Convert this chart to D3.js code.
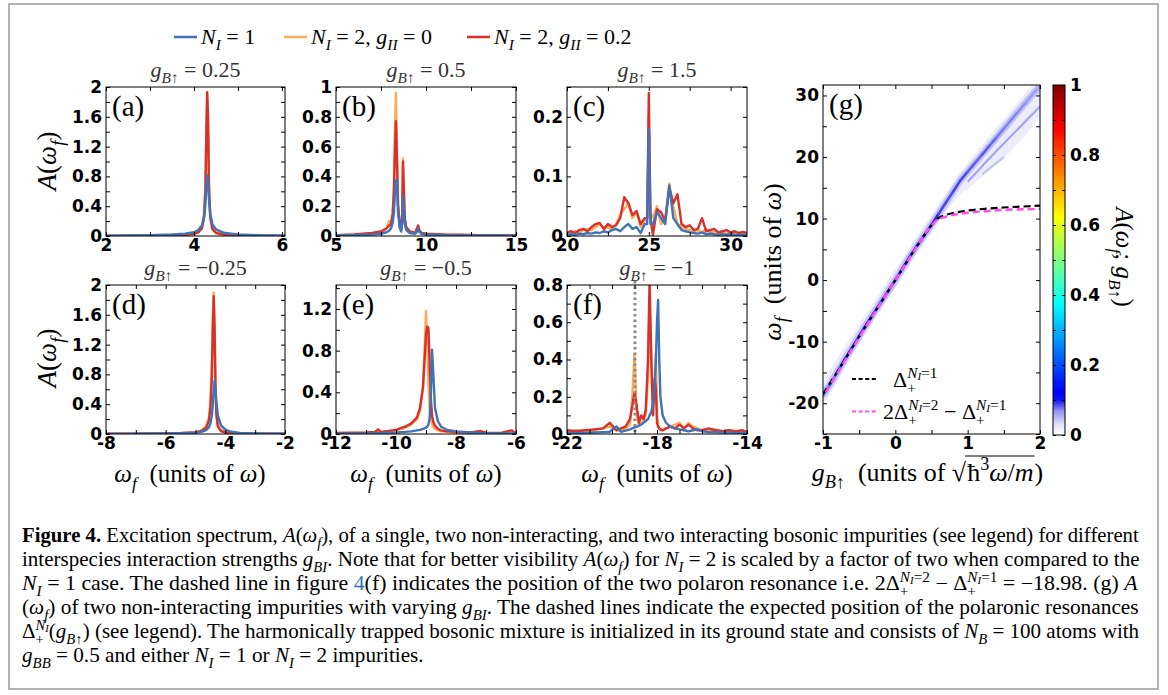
<!DOCTYPE html>
<html>
<head>
<meta charset="utf-8">
<script src="https://cdn.jsdelivr.net/npm/d3@7"></script>
<style>
  body { margin: 0; background: #fff; }
  svg { display: block; }
  text { white-space: pre; }
</style>
</head>
<body>
<svg id="fig" width="1168" height="695"></svg>
<script>
// ---- data ----

// (a) g = 0.25
const aX      = [2, 2.5, 3, 3.5, 3.8, 4.0, 4.1, 4.18, 4.23, 4.26, 4.28, 4.3, 4.32, 4.34, 4.37, 4.42, 4.5, 4.7, 5, 5.5, 6.07];
const aBlue   = [.005, .008, .012, .02, .03, .05, .08, .14, .25, .42, .65, .82, .75, .5, .3, .16, .09, .04, .02, .01, .005];
const aOrange = [.002, .003, .006, .012, .018, .035, .06, .12, .3, .7, 1.35, 1.9, 1.55, .7, .28, .1, .05, .02, .01, .005, .003];
const aRed    = [.002, .003, .005, .01, .015, .03, .05, .1, .25, .6, 1.3, 1.93, 1.6, .7, .25, .09, .04, .015, .008, .004, .002];

// (b) g = 0.5
const bX      = [5, 6, 6.5, 7, 7.5, 7.8, 7.95, 8.05, 8.15, 8.22, 8.28, 8.33, 8.38, 8.45, 8.55, 8.62, 8.68, 8.72, 8.76, 8.82, 8.9, 9.1, 9.4, 9.5, 9.56, 9.62, 9.75, 10, 11, 12, 13, 14, 15];
const bBlue   = [.003, .005, .007, .01, .015, .025, .035, .05, .09, .16, .3, .37, .38, .15, .05, .03, .1, .27, .2, .08, .04, .02, .015, .03, .05, .03, .015, .01, .006, .004, .003, .003, .002];
const bOrange = [.004, .008, .012, .015, .03, .05, .1, .07, .15, .35, .75, .96, .6, .2, .06, .04, .15, .52, .36, .12, .05, .03, .02, .05, .07, .04, .02, .012, .008, .006, .005, .004, .003];
const bRed    = [.005, .01, .015, .02, .03, .05, .07, .08, .15, .3, .6, .77, .55, .2, .06, .04, .15, .5, .35, .12, .06, .03, .02, .05, .07, .04, .02, .015, .01, .008, .006, .005, .004];

// (c) g = 1.5
const cX      = [20, 20.25, 20.5, 20.75, 21, 21.25, 21.5, 21.75, 22, 22.25, 22.5, 22.75, 23, 23.25, 23.5, 23.75, 24, 24.25, 24.5, 24.75, 24.9, 25, 25.1, 25.25, 25.5, 25.75, 26, 26.25, 26.5, 26.75, 27, 27.25, 27.5, 27.75, 28, 28.25, 28.5, 28.75, 29, 29.25, 29.5, 29.75, 30, 30.25, 30.5, 30.75, 31];
const cBlue   = [.002, .003, .002, .004, .003, .005, .004, .006, .005, .008, .006, .01, .012, .008, .015, .02, .012, .015, .005, .02, .02, .18, .02, .02, .04, .03, .02, .085, .03, .02, .01, .008, .006, .005, .004, .006, .003, .004, .003, .002, .003, .002, .003, .002, .002, .002, .002];
const cOrange = [.004, .006, .008, .005, .01, .012, .01, .015, .02, .012, .015, .01, .02, .035, .045, .055, .03, .04, .015, .025, .03, .2, .04, .03, .05, .02, .03, .088, .05, .02, .015, .012, .01, .008, .01, .006, .012, .006, .008, .005, .006, .004, .006, .004, .005, .003, .004];
const cRed    = [.006, .008, .005, .01, .012, .008, .015, .02, .022, .012, .02, .015, .018, .03, .065, .055, .035, .042, .02, .03, .03, .24, .03, .002, .045, .04, .025, .08, .055, .07, .02, .015, .018, .01, .012, .03, .008, .01, .012, .006, .008, .01, .006, .008, .005, .007, .005];

// (d) g = -0.25
const dX      = [-8, -7, -6, -5.5, -5, -4.8, -4.65, -4.55, -4.5, -4.45, -4.42, -4.39, -4.36, -4.33, -4.3, -4.25, -4.15, -4, -3.8, -3.5, -3, -2.5, -2];
const dBlue   = [.002, .003, .006, .01, .018, .03, .05, .09, .14, .25, .4, .6, .72, .6, .42, .25, .12, .06, .03, .015, .008, .005, .003];
const dOrange = [.003, .004, .008, .013, .025, .05, .1, .22, .45, 1.0, 1.6, 1.9, 1.5, .7, .3, .12, .06, .03, .015, .01, .006, .004, .003];
const dRed    = [.003, .004, .008, .012, .02, .04, .08, .18, .35, .8, 1.4, 1.85, 1.4, .6, .25, .1, .04, .02, .012, .008, .005, .004, .003];

// (e) g = -0.5
const eX      = [-12, -11.5, -11, -10.7, -10.6, -10.5, -10, -9.7, -9.5, -9.3, -9.2, -9.1, -9.05, -9.0, -8.96, -8.92, -8.88, -8.84, -8.8, -8.76, -8.7, -8.6, -8.5, -8.3, -8, -7.5, -7.2, -7, -6.5, -6.15, -6.05, -6];
const eBlue   = [.003, .004, .005, .006, .008, .01, .015, .02, .025, .035, .04, .05, .055, .06, .07, .09, .15, .35, .81, .6, .25, .12, .07, .04, .025, .015, .01, .008, .006, .005, .005, .004];
const eOrange = [.005, .008, .01, .015, .03, .015, .035, .06, .09, .14, .22, .45, .8, 1.18, .9, .5, .25, .15, .1, .07, .05, .035, .025, .02, .015, .012, .015, .01, .008, .01, .008, .006];
const eRed    = [.01, .012, .015, .02, .045, .02, .04, .07, .1, .16, .25, .45, .7, .95, 1.03, 1.02, .7, .35, .18, .12, .08, .05, .035, .025, .02, .015, .03, .012, .01, .035, .015, .01];

// (f) g = -1
const fX      = [-22, -21.6, -21.2, -20.8, -20.4, -20.1, -19.8, -19.6, -19.4, -19.2, -19.1, -19.0, -18.9, -18.8, -18.7, -18.6, -18.5, -18.4, -18.33, -18.25, -18.18, -18.1, -18.05, -18.0, -17.95, -17.9, -17.85, -17.75, -17.6, -17.4, -17.2, -17.0, -16.8, -16.6, -16.4, -16.2, -16.0, -15.7, -15.4, -15.1, -14.8, -14.5, -14.2, -14];
const fBlue   = [.005, .005, .006, .008, .01, .012, .04, .012, .018, .025, .03, .035, .04, .045, .05, .06, .07, .08, .1, .12, .16, .25, .4, .6, .72, .4, .2, .1, .06, .04, .03, .025, .02, .015, .02, .025, .015, .01, .01, .008, .008, .006, .006, .005];
const fOrange = [.01, .02, .015, .02, .03, .04, .02, .02, .03, .05, .2, .43, .1, .05, .06, .07, .1, .3, .7, .35, .12, .3, .43, .1, .05, .03, .02, .02, .03, .04, .05, .06, .03, .06, .04, .03, .02, .02, .025, .015, .02, .01, .015, .01];
const fRed    = [.02, .015, .02, .025, .03, .06, .02, .03, .04, .08, .15, .22, .15, .06, .1, .08, .13, .4, .82, .4, .1, .3, .25, .06, .04, .03, .025, .02, .03, .04, .03, .05, .03, .05, .03, .02, .02, .03, .02, .015, .02, .015, .02, .01];
const fResonance = -18.98;

// (g) spectrum ridges, g_B↑ vs omega_f
const gGrid    = [-1, -0.9, -0.8, -0.7, -0.6, -0.5, -0.4, -0.3, -0.2, -0.1, 0, 0.1, 0.2, 0.3, 0.4, 0.5, 0.6, 0.7, 0.8, 0.9, 1, 1.1, 1.2, 1.3, 1.4, 1.5, 1.6, 1.7, 1.8, 1.9, 2];
const ridgeW   = [-18.7, -16.9, -14.9, -12.9, -11.0, -9.1, -7.2, -5.4, -3.6, -1.8, 0, 1.9, 3.8, 5.6, 7.3, 9.0, 10.8, 12.6, 14.4, 16.2, 17.6, 19.0, 20.4, 21.8, 23.2, 24.6, 26.0, 27.4, 28.8, 30.2, 31.5];
const ridgeVal = [.2, .3, .18, .16, .17, .16, .14, .12, .15, .11, .1, .12, .14, .12, .11, .1, .09, .085, .085, .09, .085, .08, .08, .085, .075, .075, .07, .075, .065, .065, .06];
const haloLo   = [-20.5, -18.5, -16.5, -14.3, -12.3, -10.4, -8.5, -6.7, -4.9, -3.0, -1.3, 0.6, 2.5, 4.3, 6.0, 7.7, 9.4, 11.0, 12.6, 13.9, 14.8, 15.8, 16.8, 17.8, 18.8, 19.8, 21.0, 22.3, 23.6, 25.0, 26.5];
const haloHi   = [-16.5, -14.5, -12.6, -10.8, -9.0, -7.2, -5.4, -3.6, -1.8, 0.2, 1.8, 3.5, 5.4, 7.2, 8.9, 10.6, 12.4, 14.2, 16.0, 17.6, 19.1, 20.6, 22.0, 23.4, 24.8, 26.2, 27.6, 29.0, 30.4, 31.7, 31.7];
const branch2G = [1.0, 1.2, 1.4, 1.6, 1.8, 2.0];
const branch2W = [16.0, 18.5, 21.0, 23.4, 25.8, 28.2];
const branch3G = [1.2, 1.35, 1.5];
const branch3W = [17.2, 18.6, 20.0];

// dashed resonance curves
const dashG   = [-1, -0.75, -0.5, -0.25, 0, 0.25, 0.5, 0.55, 0.6, 0.7, 0.8, 1, 1.25, 1.5, 1.75, 2];
const delta1W = [-18.5, -13.9, -9.2, -4.6, 0, 4.6, 8.9, 9.6, 10.1, 10.6, 10.9, 11.3, 11.6, 11.8, 11.95, 12.1];
const delta2W = [-18.98, -14.1, -9.3, -4.6, 0, 4.6, 8.9, 9.5, 9.9, 10.3, 10.6, 10.95, 11.2, 11.4, 11.5, 11.6];

// colormap (white-to-jet)
const cmapStops  = [0, 0.03, 0.07, 0.1, 0.125, 0.375, 0.625, 0.875, 1];
const cmapColors = ["#ffffff", "#e2e2f8", "#8f8ff2", "#1010f0", "#0000ff", "#00ffff", "#ffff00", "#ff0000", "#800000"];
const cbTicks  = [0, .1, .2, .3, .4, .5, .6, .7, .8, .9, 1];
const cbLabels = [0, .2, .4, .6, .8, 1];

// panel titles (g_B↑ values)
const titles = ["0.25", "0.5", "1.5", "−0.25", "−0.5", "−1"];

// ---- drawing ----
const svg = d3.select("#fig");
const SERIF = "'Liberation Serif','Times New Roman',serif";
const SANS = "'DejaVu Sans',sans-serif";
const cB = "#3f74b8", cO = "#fdab5a", cR = "#d8302a";

svg.append("rect").attr("x", 9).attr("y", 4).attr("width", 1149).attr("height", 685)
  .attr("fill", "none").attr("stroke", "#9a9a9a").attr("stroke-width", 1.5);

// math-ish text helper: flags i=italic b=bold _=sub ^=sup ^_=sub in sup k=stack l=link
const LV = {"": [0, 1], "_": [0.28, 0.7], "^": [-0.42, 0.7], "^_": [-0.3, 0.5]};
function rich(t, parts, base) {
  let cur = 0, prev = null;
  parts.forEach(([s, f = ""]) => {
    const lv = (f.match(/[\^_]+/) || [""])[0];
    const [sh, sc] = LV[lv];
    const ts = t.append("tspan").text(s).attr("font-size", base * sc);
    if (f.includes("i")) ts.attr("font-style", "italic");
    if (f.includes("b")) ts.attr("font-weight", "bold");
    if (f.includes("l")) ts.attr("fill", "#2a74b8");
    const dy = (sh - cur) * base;
    if (dy) ts.attr("dy", dy);
    if (f.includes("k") && prev) ts.attr("dx", -prev.node().getComputedTextLength());
    cur = sh; prev = ts;
  });
  return t;
}
function mtext(x, y, parts, size, anchor) {
  const t = svg.append("text").attr("x", x).attr("y", y).attr("font-family", SERIF)
    .attr("font-size", size).attr("text-anchor", anchor || "start");
  return rich(t, parts, size);
}

const fmt = v => Math.abs(v) < 1e-9 ? "0" : String(+v.toFixed(2));
const has = (L, d) => L.some(v => Math.abs(v - d) < 1e-9);

function styleAxis(a) {
  a.select(".domain").remove();
  a.selectAll("line").attr("stroke", "#000");
  a.selectAll("text").attr("font-family", SANS).attr("font-weight", "bold")
    .attr("font-size", 17).attr("fill", "#000");
}

function frame(cfg) {
  const [x0, y0, x1, y1] = cfg.box;
  const x = d3.scaleLinear().domain(cfg.xd).range([x0, x1]);
  const y = d3.scaleLinear().domain(cfg.yd).range([y1, y0]);
  svg.append("clipPath").attr("id", "clip-" + cfg.id).append("rect")
    .attr("x", x0).attr("y", y0).attr("width", x1 - x0).attr("height", y1 - y0);
  const plot = svg.append("g").attr("clip-path", `url(#clip-${cfg.id})`);
  return {x, y, plot};
}

function axes(cfg, x, y) {
  const [x0, y0, x1, y1] = cfg.box;
  svg.append("g").attr("transform", `translate(0,${y1})`)
    .call(d3.axisBottom(x).tickValues(cfg.xT).tickSize(-4).tickSizeOuter(0).tickPadding(3)
      .tickFormat(d => has(cfg.xL, d) ? fmt(d) : "")).call(styleAxis);
  svg.append("g").attr("transform", `translate(0,${y0})`)
    .call(d3.axisTop(x).tickValues(cfg.xT).tickSize(-4).tickSizeOuter(0).tickFormat("")).call(styleAxis);
  svg.append("g").attr("transform", `translate(${x0},0)`)
    .call(d3.axisLeft(y).tickValues(cfg.yT).tickSize(-4).tickSizeOuter(0).tickPadding(4)
      .tickFormat(d => has(cfg.yL, d) ? fmt(d) : "")).call(styleAxis);
  svg.append("g").attr("transform", `translate(${x1},0)`)
    .call(d3.axisRight(y).tickValues(cfg.yT).tickSize(-4).tickSizeOuter(0).tickFormat("")).call(styleAxis);
  svg.append("rect").attr("x", x0).attr("y", y0).attr("width", x1 - x0).attr("height", y1 - y0)
    .attr("fill", "none").attr("stroke", "#000").attr("stroke-width", 1);
}

const rangeBy = (a, b, s) => d3.range(Math.round((b - a) / s) + 1).map(i => +(a + i * s).toFixed(4));

const panels = [
  {id: "a", X: aX, S: [aOrange, aRed, aBlue], xd: [2, 6.07], yd: [0, 2], box: [106, 87, 285, 236],
   xL: [2, 4, 6], xT: rangeBy(2, 6, 1), yL: rangeBy(0, 2, 0.4), yT: rangeBy(0, 2, 0.2)},
  {id: "b", X: bX, S: [bOrange, bRed, bBlue], xd: [5, 15], yd: [0, 1], box: [336, 87, 516, 236],
   xL: [5, 10, 15], xT: rangeBy(5, 15, 2.5), yL: rangeBy(0, 1, 0.2), yT: rangeBy(0, 1, 0.1)},
  {id: "c", X: cX, S: [cOrange, cRed, cBlue], xd: [20, 31], yd: [0, 0.25], box: [567, 87, 747, 236],
   xL: [20, 25, 30], xT: rangeBy(20, 30, 2.5), yL: [0, 0.1, 0.2], yT: rangeBy(0, 0.25, 0.05)},
  {id: "d", X: dX, S: [dOrange, dRed, dBlue], xd: [-8, -2], yd: [0, 2], box: [106, 285, 285, 434],
   xL: [-8, -6, -4, -2], xT: rangeBy(-8, -2, 1), yL: rangeBy(0, 2, 0.4), yT: rangeBy(0, 2, 0.2)},
  {id: "e", X: eX, S: [eOrange, eRed, eBlue], xd: [-12, -6], yd: [0, 1.43], box: [336, 285, 516, 434],
   xL: [-12, -10, -8, -6], xT: rangeBy(-12, -6, 1), yL: [0, 0.4, 0.8, 1.2], yT: rangeBy(0, 1.4, 0.2)},
  {id: "f", X: fX, S: [fOrange, fRed, fBlue], xd: [-22, -14], yd: [0, 0.8], box: [567, 285, 747, 434],
   xL: [-22, -18, -14], xT: rangeBy(-22, -14, 1), yL: rangeBy(0, 0.8, 0.2), yT: rangeBy(0, 0.8, 0.1)}
];
const colors = [cO, cR, cB];

panels.forEach((cfg, k) => {
  const {x, y, plot} = frame(cfg);
  cfg.S.forEach((s, j) => {
    plot.append("path").datum(s)
      .attr("d", d3.line().x((d, i) => x(cfg.X[i])).y(d => y(d)))
      .attr("fill", "none").attr("stroke", colors[j]).attr("stroke-width", 2.4)
      .attr("stroke-linejoin", "round");
  });
  if (cfg.id === "f") {
    svg.append("line").attr("x1", x(fResonance)).attr("x2", x(fResonance))
      .attr("y1", cfg.box[1] - 4).attr("y2", cfg.box[3])
      .attr("stroke", "#8a8a8a").attr("stroke-width", 3).attr("stroke-dasharray", "2.5,3");
  }
  axes(cfg, x, y);
  const [x0, y0, x1, y1] = cfg.box;
  mtext((x0 + x1) / 2, y0 - 10, [["g", "i"], ["B", "_i"], ["↑", "_"], [" = " + titles[k]]], 22, "middle")
    .attr("fill", "#333");
  mtext(x0 + 6, y0 + 29, [["(" + cfg.id + ")"]], 29);
});

// y labels A(ω_f)
[161, 358].forEach(cy => {
  const t = svg.append("text").attr("transform", `translate(56,${cy}) rotate(-90)`)
    .attr("font-family", SERIF).attr("font-size", 27).attr("text-anchor", "middle");
  rich(t, [["A", "i"], ["("], ["ω", "i"], ["f", "_i"], [")"]], 27);
});
// x labels
[190, 426, 657].forEach(cx => {
  mtext(cx, 482, [["ω", "i"], ["f", "_i"], ["  (units of "], ["ω", "i"], [")"]], 25, "middle");
});

// top legend
const legX = [174, 284, 467];
const legParts = [
  [["N", "i"], ["I", "_i"], [" = 1"]],
  [["N", "i"], ["I", "_i"], [" = 2, "], ["g", "i"], ["II", "_i"], [" = 0"]],
  [["N", "i"], ["I", "_i"], [" = 2, "], ["g", "i"], ["II", "_i"], [" = 0.2"]]
];
[cB, cO, cR].forEach((c, i) => {
  svg.append("line").attr("x1", legX[i]).attr("x2", legX[i] + 23).attr("y1", 37).attr("y2", 37)
    .attr("stroke", c).attr("stroke-width", 2.5);
  mtext(legX[i] + 27, 44, legParts[i], 22);
});

// ---- panel (g) ----
const G = {id: "g", xd: [-1, 2], yd: [-25, 31.7], box: [823, 85, 1040, 434],
  xL: [-1, 0, 1, 2], xT: rangeBy(-1, 2, 0.5), yL: [-20, -10, 0, 10, 20, 30], yT: rangeBy(-25, 30, 5)};
const cmap = d3.scaleLinear().domain(cmapStops).range(cmapColors).interpolate(d3.interpolateRgb).clamp(true);
{
  const {x, y, plot} = frame(G);
  plot.append("path").datum(gGrid)
    .attr("d", d3.area().x(d => x(d)).y0((d, i) => y(haloLo[i])).y1((d, i) => y(haloHi[i])).curve(d3.curveMonotoneX))
    .attr("fill", cmap(0.022)).attr("opacity", 0.9);
  const ridge = d3.line().x(d => x(d)).y((d, i) => y(ridgeW[i])).curve(d3.curveMonotoneX);
  plot.append("path").datum(gGrid).attr("d", ridge).attr("fill", "none")
    .attr("stroke", cmap(0.045)).attr("stroke-width", 7);
  [[branch2G, branch2W, 0.06], [branch3G, branch3W, 0.045]].forEach(([bg, bw, v]) => {
    plot.append("path").datum(bg)
      .attr("d", d3.line().x(d => x(d)).y((d, i) => y(bw[i])).curve(d3.curveMonotoneX))
      .attr("fill", "none").attr("stroke", cmap(v)).attr("stroke-width", 2.2);
  });
  d3.pairs(d3.range(gGrid.length)).forEach(([i, j]) => {
    plot.append("line").attr("x1", x(gGrid[i])).attr("y1", y(ridgeW[i]))
      .attr("x2", x(gGrid[j])).attr("y2", y(ridgeW[j]))
      .attr("stroke", cmap((ridgeVal[i] + ridgeVal[j]) / 2)).attr("stroke-width", 2.6)
      .attr("stroke-linecap", "round");
  });
  const dl = W => d3.line().x(d => x(d)).y((d, i) => y(W[i])).curve(d3.curveMonotoneX);
  plot.append("path").datum(dashG).attr("d", dl(delta1W)).attr("fill", "none")
    .attr("stroke", "#000").attr("stroke-width", 2.2).attr("stroke-dasharray", "7,4");
  plot.append("path").datum(dashG).attr("d", dl(delta2W)).attr("fill", "none")
    .attr("stroke", "#ff4fe6").attr("stroke-width", 2.5).attr("stroke-dasharray", "7,4")
    .attr("stroke-dashoffset", 5.5);
  axes(G, x, y);
  mtext(829, 114, [["(g)"]], 29);

  // legend inside (g)
  svg.append("line").attr("x1", 852).attr("x2", 877).attr("y1", 379).attr("y2", 379)
    .attr("stroke", "#000").attr("stroke-width", 2).attr("stroke-dasharray", "4,2.6");
  svg.append("line").attr("x1", 852).attr("x2", 877).attr("y1", 411.5).attr("y2", 411.5)
    .attr("stroke", "#ff4fe6").attr("stroke-width", 2).attr("stroke-dasharray", "4,2.6");
  mtext(893, 387, [["Δ"], ["+", "_"], ["N", "^ik"], ["I", "^_i"], ["=1", "^"]], 22);
  mtext(883, 419, [["2Δ"], ["+", "_"], ["N", "^ik"], ["I", "^_i"], ["=2", "^"], [" − Δ"], ["+", "_"], ["N", "^ik"], ["I", "^_i"], ["=1", "^"]], 22);

  // y label
  const ty = svg.append("text").attr("transform", "translate(781,262) rotate(-90)")
    .attr("font-family", SERIF).attr("font-size", 26).attr("text-anchor", "middle");
  rich(ty, [["ω", "i"], ["f", "_i"], ["  (units of "], ["ω", "i"], [")"]], 26);

  // x label with square root
  const gx = svg.append("g");
  const t1 = rich(gx.append("text").attr("font-family", SERIF).attr("font-size", 26),
    [["g", "i"], ["B", "_i"], ["↑", "_"], ["  (units of "], ["√"]], 26);
  const w1 = t1.node().getComputedTextLength();
  const t2 = rich(gx.append("text").attr("x", w1 + 1).attr("font-family", SERIF).attr("font-size", 26),
    [["ħ"], ["3", "^"], ["ω", "i"], ["/"], ["m", "i"]], 26);
  const w2 = t2.node().getComputedTextLength() + 1;
  gx.append("line").attr("x1", w1 - 1).attr("x2", w1 + w2 + 1).attr("y1", -25).attr("y2", -25)
    .attr("stroke", "#000").attr("stroke-width", 1.2);
  const t3 = gx.append("text").attr("x", w1 + w2 + 1).attr("font-family", SERIF).attr("font-size", 26).text(")");
  const W = w1 + w2 + t3.node().getComputedTextLength();
  gx.attr("transform", `translate(${927 - W / 2},481)`);
}

// colorbar
{
  const cb = [1053, 85, 1065, 435];
  const grad = svg.append("defs").append("linearGradient").attr("id", "jetw")
    .attr("x1", 0).attr("y1", 1).attr("x2", 0).attr("y2", 0);
  cmapStops.forEach((s, i) => grad.append("stop").attr("offset", s).attr("stop-color", cmapColors[i]));
  svg.append("rect").attr("x", cb[0]).attr("y", cb[1]).attr("width", cb[2] - cb[0]).attr("height", cb[3] - cb[1])
    .attr("fill", "url(#jetw)");
  const cy = d3.scaleLinear().domain([0, 1]).range([cb[3], cb[1]]);
  svg.append("g").attr("transform", `translate(${cb[0]},0)`)
    .call(d3.axisLeft(cy).tickValues(cbTicks).tickSize(-3).tickSizeOuter(0).tickFormat("")).call(styleAxis);
  svg.append("g").attr("transform", `translate(${cb[2]},0)`)
    .call(d3.axisRight(cy).tickValues(cbTicks).tickSize(-3).tickSizeOuter(0).tickPadding(5)
      .tickFormat(d => has(cbLabels, d) ? fmt(d) : "")).call(styleAxis);
  svg.append("rect").attr("x", cb[0]).attr("y", cb[1]).attr("width", cb[2] - cb[0]).attr("height", cb[3] - cb[1])
    .attr("fill", "none").attr("stroke", "#000");
  const tl = svg.append("text").attr("transform", "translate(1116,257) rotate(90)")
    .attr("font-family", SERIF).attr("font-size", 25).attr("text-anchor", "middle");
  rich(tl, [["A", "i"], ["("], ["ω", "i"], ["f", "_i"], ["; "], ["g", "i"], ["B", "_i"], ["↑", "_"], [")"]], 25);
}

// caption
const capLines = [
  [["Figure 4.", "b"], [" Excitation spectrum, "], ["A", "i"], ["("], ["ω", "i"], ["f", "_i"], ["), of a single, two non-interacting, and two interacting bosonic impurities (see legend) for different"]],
  [["interspecies interaction strengths "], ["g", "i"], ["BI", "_i"], [". Note that for better visibility "], ["A", "i"], ["("], ["ω", "i"], ["f", "_i"], [") for "], ["N", "i"], ["I", "_i"], [" = 2 is scaled by a factor of two when compared to the"]],
  [["N", "i"], ["I", "_i"], [" = 1 case. The dashed line in figure "], ["4", "l"], ["(f) indicates the position of the two polaron resonance i.e. 2Δ"], ["+", "_"], ["N", "^ik"], ["I", "^_i"], ["=2", "^"], [" − Δ"], ["+", "_"], ["N", "^ik"], ["I", "^_i"], ["=1", "^"], [" = −18.98. (g) "], ["A", "i"]],
  [["("], ["ω", "i"], ["f", "_i"], [") of two non-interacting impurities with varying "], ["g", "i"], ["BI", "_i"], [". The dashed lines indicate the expected position of the polaronic resonances"]],
  [["Δ"], ["+", "_"], ["N", "^ik"], ["I", "^_i"], ["("], ["g", "i"], ["B↑", "_i"], [") (see legend). The harmonically trapped bosonic mixture is initialized in its ground state and consists of "], ["N", "i"], ["B", "_i"], [" = 100 atoms with"]],
  [["g", "i"], ["BB", "_i"], [" = 0.5 and either "], ["N", "i"], ["I", "_i"], [" = 1 or "], ["N", "i"], ["I", "_i"], [" = 2 impurities."]]
];
const capBase = [542, 566, 590, 614, 638, 662];
const ks = [];
capLines.forEach((parts, i) => {
  const t = svg.append("text").attr("font-family", SERIF).attr("font-size", 20);
  rich(t, parts, 20);
  const w = t.node().getBBox().width;
  const k = i < 5 ? 1118 / w : d3.mean(ks);
  ks.push(k);
  t.attr("transform", `translate(22,${capBase[i]}) scale(${k},1)`);
});
</script>
</body>
</html>
